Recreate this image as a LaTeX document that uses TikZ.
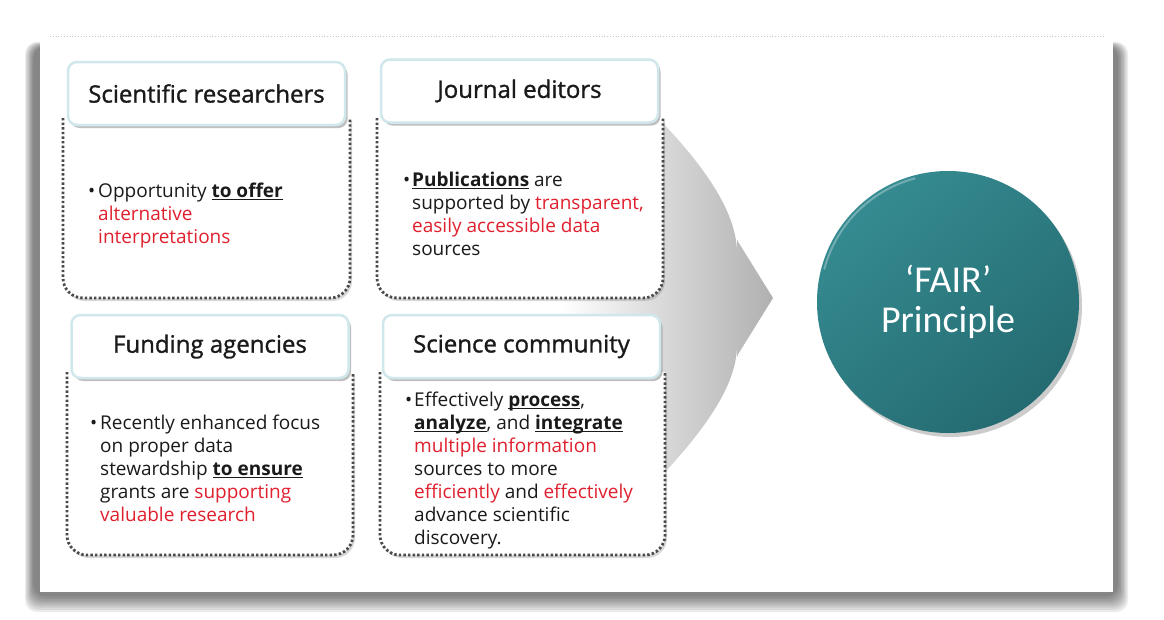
\documentclass[tikz,border=0pt]{standalone}
\usepackage{fontspec}
\setmainfont{Open Sans}
\newfontfamily\hdrfont[FakeBold=1.2]{Open Sans}
\newfontfamily\fairfont{Carlito}
\usetikzlibrary{shadows}
\definecolor{txt}{HTML}{1A1A1A}
\definecolor{redt}{HTML}{E0202E}
\definecolor{hdrb}{HTML}{D0E8EB}
\definecolor{dotc}{HTML}{4A4A4A}
\definecolor{fairA}{HTML}{358B91}
\definecolor{fairB}{HTML}{246B71}
\newcommand\ubf[1]{\setbox0=\hbox{\bfseries #1}\rlap{\rule[-3pt]{\wd0}{1.4pt}}\box0{}}
\newcommand\rd[1]{\textcolor{redt}{#1}}
\begin{document}
\begin{tikzpicture}[x=1pt,y=-1pt,
  hdr/.style={rectangle, rounded corners=9pt, draw=hdrb, line width=2.5pt, fill=white,
    minimum width=277pt, minimum height=63pt, inner sep=0pt, text=txt,
    font=\hdrfont\fontsize{24}{28}\selectfont,
    drop shadow={opacity=0.5, shadow xshift=2.5pt, shadow yshift=-3pt}},
  bodybox/.style={draw=dotc, line width=2.8pt, dash pattern=on 2.4pt off 2.2pt, fill=white,
    rounded corners=20pt,
    drop shadow={opacity=0.3, shadow xshift=2pt, shadow yshift=-3pt}},
  bodytxt/.style={anchor=north west, inner sep=0pt, align=left, text=txt,
    font=\fontsize{19}{23}\selectfont},
  bul/.style={anchor=base west, inner sep=0pt, text=txt, font=\fontsize{19}{23}\selectfont},
  fairnode/.style={circle, minimum size=262pt, inner sep=0pt, outer sep=0pt,
    shading=axis, top color=fairA, bottom color=fairB, shading angle=40,
    text=white, align=center, font=\fairfont\fontsize{38}{40}\selectfont,
    drop shadow={opacity=0.4, shadow xshift=3pt, shadow yshift=-4pt}}
]
\useasboundingbox (0,0) rectangle (1164,619);

% frame shadow and panel
\foreach \k in {0,...,7}{
  \fill[black, opacity=0.08, rounded corners=12pt]
    ({25+\k*1.2},{42+\k*0.6}) rectangle ({1128-\k*1.4},{612-\k*2.2});
}
\fill[white] (40,36) rectangle (1113,592);
\draw[gray!45, line width=0.8pt, dotted] (50,36) -- (1105,36);

% big gray arrow
\shade[left color=white, right color=gray!62]
  (560,110) -- (650,110) .. controls (700,160) and (737,210) .. (737,253)
  -- (737,240) -- (773,298) -- (737,356) -- (737,345)
  .. controls (737,388) and (700,436) .. (650,488) -- (560,488) -- cycle;

% bodies
\path[bodybox] (63,118) -- (63,298) -- (350,298) -- (350,118);
\path[bodybox] (377,118) -- (377,298) -- (663,298) -- (663,118);
\path[bodybox] (67,372) -- (67,555) -- (353,555) -- (353,372);
\path[bodybox] (380,372) -- (380,555) -- (665,555) -- (665,372);

% headers
\node[hdr] (h1) at (206.5,93.5) {Scientific researchers};
\node[hdr] (h2) at (519.5,91) {Journal editors};
\node[hdr] (h3) at (210,346.5) {Funding agencies};
\node[hdr] (h4) at (521.5,346.5) {Science community};

% body texts
\node[bul] (u1) at (88,197) {•};
\node[bodytxt] (t1) at (98,180.9) {\strut Opportunity \ubf{to offer}\\ \rd{alternative}\\ \rd{interpretations}};

\node[bul] (u2) at (403,186) {•};
\node[bodytxt] (t2) at (412,169.9) {\strut\ubf{Publications} are\\ supported by \rd{transparent,}\\ \rd{easily accessible data}\\ sources};

\node[bul] (u3) at (90,429) {•};
\node[bodytxt] (t3) at (100,412.9) {\strut Recently enhanced focus\\ on proper data\\ stewardship \ubf{to ensure}\\ grants are \rd{supporting}\\ \rd{valuable research}};

\node[bul] (u4) at (405,406) {•};
\node[bodytxt] (t4) at (414,389.9) {\strut Effectively \ubf{process},\\ \ubf{analyze}, and \ubf{integrate}\\ \rd{multiple information}\\ sources to more\\ \rd{efficiently} and \rd{effectively}\\ advance scientific\\ discovery.};

% FAIR circle
\node[fairnode] (fair) at (948,302) {‘FAIR’\\Principle};
\draw[white, opacity=0.3, line width=2pt, line cap=round]
  ([shift={(105:128pt)}]fair.center) arc[start angle=105, end angle=165, radius=128pt];
\end{tikzpicture}
\end{document}
